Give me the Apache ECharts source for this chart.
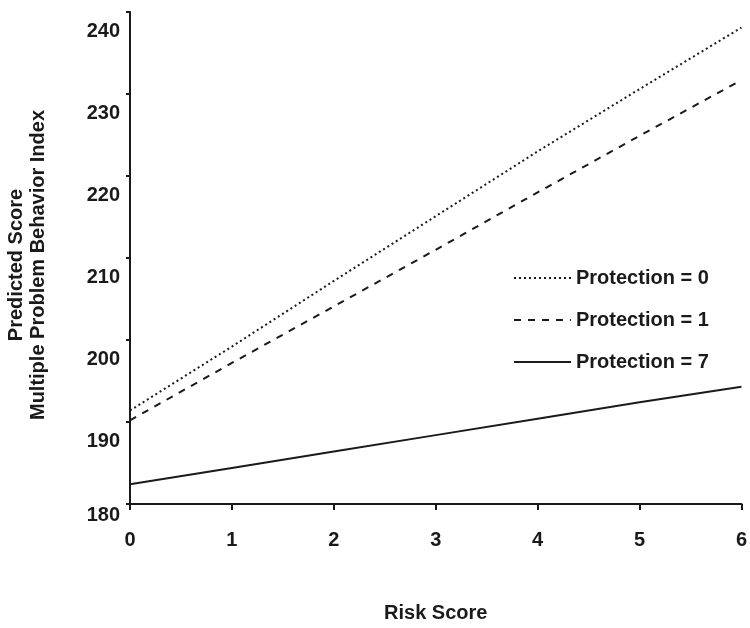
<!DOCTYPE html>
<html>
<head>
<meta charset="utf-8">
<script src="https://cdn.jsdelivr.net/npm/echarts@6/dist/echarts.min.js"></script>
<style>
html,body{margin:0;padding:0;background:#fff;}
#chart{width:750px;height:628px;}
</style>
</head>
<body>
<div id="chart"></div>
<script>
var riskScores = [0, 1, 2, 3, 4, 5, 6];
var protection0 = [191.4, 199.2, 207.2, 215.1, 223.0, 230.6, 238.1];
var protection1 = [190.2, 197.2, 204.1, 211.0, 218.0, 224.9, 231.7];
var protection7 = [182.4, 184.4, 186.4, 188.4, 190.4, 192.4, 194.3];
var seriesNames = ['Protection = 0', 'Protection = 1', 'Protection = 7'];
var yTitleLines = ['Predicted Score', 'Multiple Problem Behavior Index'];
var xTitle = 'Risk Score';

var FONT = '"Liberation Sans", Arial, Helvetica, sans-serif';
var INK = '#1a1a1a';

function pairs(vals) {
  return riskScores.map(function (x, i) { return [x, vals[i]]; });
}

var chart = echarts.init(document.getElementById('chart'), null, {renderer: 'canvas'});
chart.setOption({
  animation: false,
  backgroundColor: '#fff',
  grid: {left: 130, right: 4, top: 12, bottom: 100, containLabel: false},
  xAxis: {
    type: 'value', min: 0, max: 6, interval: 1,
    name: xTitle, nameLocation: 'middle', nameGap: 99,
    nameTextStyle: {fontFamily: FONT, fontWeight: 'bold', fontSize: 20, color: INK},
    axisLine: {show: true, onZero: false, lineStyle: {color: INK, width: 2}},
    axisTick: {show: true, length: 6, lineStyle: {color: INK, width: 2}},
    axisLabel: {margin: 26, fontFamily: FONT, fontWeight: 'bold', fontSize: 20, color: INK},
    splitLine: {show: false}
  },
  yAxis: {
    type: 'value', min: 180, max: 240, interval: 10,
    axisLine: {show: true, onZero: false, lineStyle: {color: INK, width: 2}},
    axisTick: {show: true, length: 4, lineStyle: {color: INK, width: 2}},
    axisLabel: {
      margin: 10, fontFamily: FONT, fontWeight: 'bold', fontSize: 20, color: INK,
      formatter: function (v) { return v === 180 ? '{b|' + v + '}' : '{a|' + v + '}'; },
      rich: {
        a: {padding: [38, 0, 0, 0], fontFamily: FONT, fontWeight: 'bold', fontSize: 20, color: INK},
        b: {padding: [22, 0, 0, 0], fontFamily: FONT, fontWeight: 'bold', fontSize: 20, color: INK}
      }
    },
    splitLine: {show: false}
  },
  legend: {
    orient: 'vertical', left: 508, top: 263,
    itemWidth: 57, itemHeight: 20, itemGap: 22,
    itemStyle: {opacity: 0, color: 'rgba(0,0,0,0)', borderWidth: 0},
    textStyle: {fontFamily: FONT, fontWeight: 'bold', fontSize: 20, color: INK},
    data: seriesNames
  },
  graphic: [
    {type: 'text', x: 16, y: 265, rotation: Math.PI / 2,
     style: {text: yTitleLines[0], fontFamily: FONT, fontWeight: 'bold', fontSize: 20, fill: INK, align: 'center', verticalAlign: 'middle'}},
    {type: 'text', x: 38, y: 265, rotation: Math.PI / 2,
     style: {text: yTitleLines[1], fontFamily: FONT, fontWeight: 'bold', fontSize: 20, fill: INK, align: 'center', verticalAlign: 'middle'}}
  ],
  series: [
    {name: seriesNames[0], type: 'line', data: pairs(protection0), symbol: 'none',
     lineStyle: {color: INK, width: 2, type: [2, 3]}, itemStyle: {color: INK}},
    {name: seriesNames[1], type: 'line', data: pairs(protection1), symbol: 'none',
     lineStyle: {color: INK, width: 2, type: [7, 7]}, itemStyle: {color: INK}},
    {name: seriesNames[2], type: 'line', data: pairs(protection7), symbol: 'none',
     lineStyle: {color: INK, width: 2, type: 'solid'}, itemStyle: {color: INK}}
  ]
});
</script>
</body>
</html>
